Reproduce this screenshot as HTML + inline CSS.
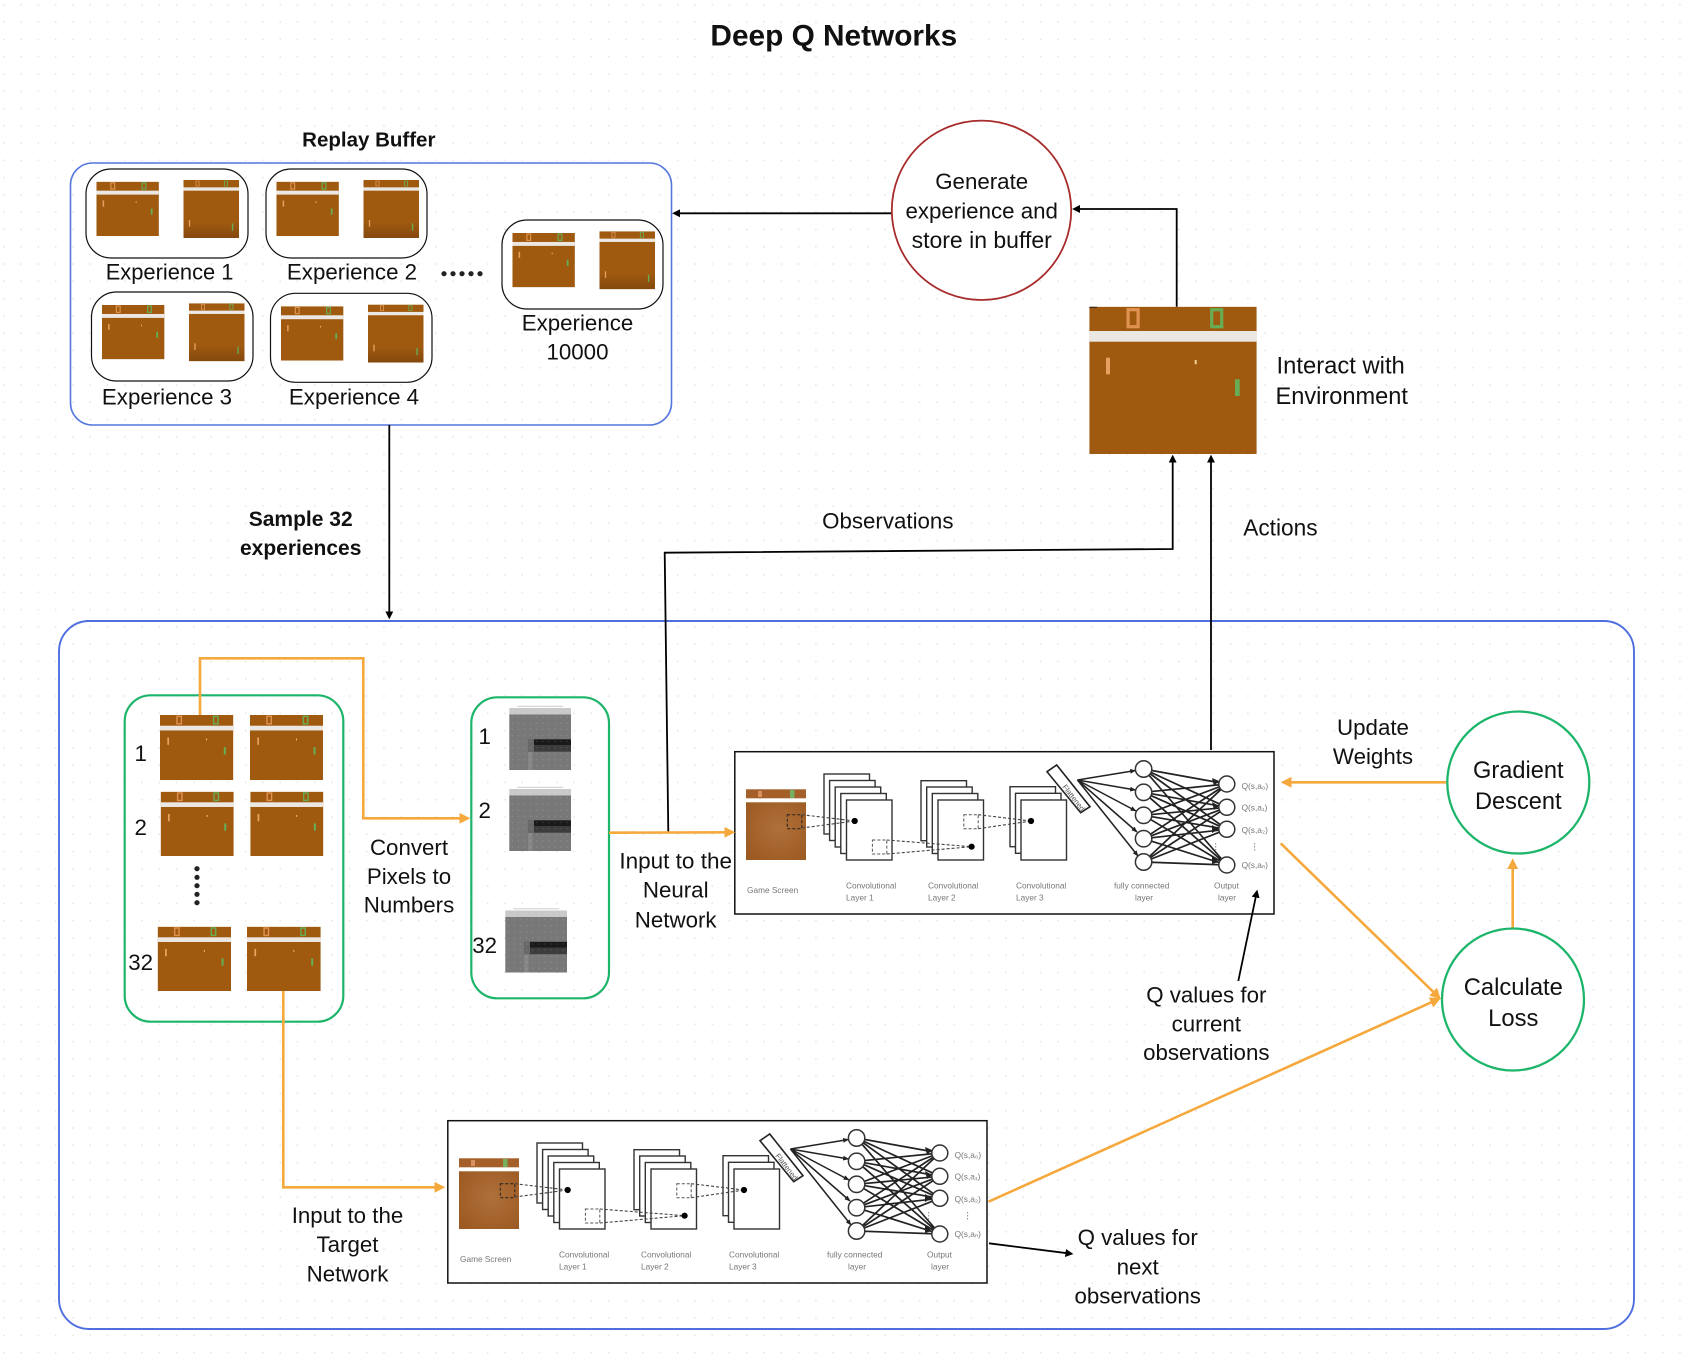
<!DOCTYPE html>
<html><head><meta charset="utf-8"><title>Deep Q Networks</title>
<style>
html,body{margin:0;padding:0;background:#fff}
svg{display:block}
text{font-family:"Liberation Sans",sans-serif;fill:#111;font-size:22.3px;text-anchor:middle}
.b{font-weight:bold}
.s text,text.s{font-size:8.3px;fill:#777;text-anchor:start}
</style></head><body>
<svg width="1690" height="1358" viewBox="0 0 1690 1358" xmlns="http://www.w3.org/2000/svg">
<defs>
<pattern id="dots" x="3.8" y="4.8" width="17.28" height="17.28" patternUnits="userSpaceOnUse" patternTransform="translate(-1.2 -1.2)"><rect x="0.2" y="0.2" width="2" height="2" rx="1" fill="#e9e9e9"/></pattern>
<pattern id="wd" width="6.1" height="6.1" patternUnits="userSpaceOnUse"><circle cx="3" cy="3" r=".55" fill="#fff" opacity=".22"/></pattern>
<marker id="mb" viewBox="0 0 10 10" refX="7" refY="5" markerWidth="8" markerHeight="8" markerUnits="userSpaceOnUse" orient="auto"><path d="M0 0L10 5L0 10z" fill="#000"/></marker>
<marker id="mo" viewBox="0 0 10 10" refX="7" refY="5" markerWidth="11" markerHeight="11" markerUnits="userSpaceOnUse" orient="auto"><path d="M0 0L10 5L0 10z" fill="#f5a83c"/></marker>
<marker id="mn" viewBox="0 0 10 10" refX="9" refY="5" markerWidth="6" markerHeight="6" markerUnits="userSpaceOnUse" orient="auto"><path d="M0 1L10 5L0 9z" fill="#222"/></marker>
<linearGradient id="sh" x1="0" y1="0" x2="0" y2="1"><stop offset="0" stop-color="#a05a10"/><stop offset=".72" stop-color="#a05a10"/><stop offset="1" stop-color="#85490e"/></linearGradient>
<radialGradient id="gs" cx=".55" cy=".45" r=".7"><stop offset="0" stop-color="#b0703a"/><stop offset="1" stop-color="#9c5a22"/></radialGradient>
<symbol id="g" viewBox="0 0 167.4 147.3" preserveAspectRatio="none">
<rect width="167.4" height="147.3" fill="#a05a10"/>
<rect y="24.3" width="167.4" height="10.7" fill="#ebe7e3"/>
<rect x="38.8" y="3" width="10" height="17" fill="none" stroke="#e09250" stroke-width="3.2"/>
<rect x="122.4" y="3" width="10" height="17" fill="none" stroke="#66ad55" stroke-width="3.2"/>
<rect x="16.7" y="51" width="4" height="16.6" fill="#e8a060"/>
<rect x="105.4" y="53.3" width="2" height="4.3" fill="#f4d090"/>
<rect x="145.7" y="72.6" width="4.7" height="16.7" fill="#66ad55"/>
</symbol>
<symbol id="h" viewBox="0 0 125 174" preserveAspectRatio="none">
<rect width="125" height="174" fill="url(#sh)"/>
<rect y="22" width="125" height="10" fill="#ebe7e3"/>
<rect x="28" y="3" width="7" height="15" fill="none" stroke="#e09250" stroke-width="2"/>
<rect x="92" y="3" width="7" height="15" fill="none" stroke="#66ad55" stroke-width="2"/>
<rect x="12" y="120" width="3" height="20" fill="#e8a060"/>
<rect x="109" y="130" width="3" height="22" fill="#66ad55"/>
</symbol>
<g id="gray">
<rect width="61.7" height="6.5" fill="#c9c9c9"/>
<rect y="-2.2" x="8" width="46" height="1" fill="#ccc"/>
<rect y="6.5" width="61.7" height="55.5" fill="#787878"/>
<rect x="18.7" y="31" width="6" height="13" fill="#686868"/>
<rect x="18.7" y="44" width="4.5" height="18" fill="#868686"/>
<rect x="24.7" y="31.3" width="37" height="5.8" fill="#1a1a1a"/>
<rect x="24.7" y="37" width="37" height="6.7" fill="#3c3c3c"/>
<rect width="61.7" height="62" fill="url(#wd)"/>
</g>
<g id="pair">
<use href="#g" x="10.4" y="13" width="62.5" height="54.3"/>
<use href="#h" x="97.5" y="11.3" width="55.5" height="58"/>
</g>
<g id="sheet"><rect width="45.5" height="60" fill="#fff" stroke="#333" stroke-width="1.4"/></g>
<g id="nn">
<rect x="734.8" y="751.7" width="539.2" height="162.3" fill="#fff" stroke="#111" stroke-width="1.5"/>
<rect x="746" y="789.3" width="60" height="9" fill="#a5602a"/>
<rect x="746" y="802.3" width="60" height="57.7" fill="url(#gs)"/>
<rect x="758" y="791" width="4" height="6" fill="#d89060"/>
<rect x="790" y="790" width="4.5" height="8" fill="#74b060"/>
<use href="#sheet" x="824" y="774"/><use href="#sheet" x="829.6" y="780.5"/><use href="#sheet" x="835.2" y="787"/><use href="#sheet" x="840.8" y="793.5"/><use href="#sheet" x="846.5" y="800"/>
<use href="#sheet" x="921" y="780.7"/><use href="#sheet" x="926.7" y="787"/><use href="#sheet" x="932.3" y="793.5"/><use href="#sheet" x="938" y="800"/>
<use href="#sheet" x="1010" y="786.7"/><use href="#sheet" x="1015.5" y="793.3"/><use href="#sheet" x="1021" y="800"/>
<g fill="none" stroke-dasharray="3 2">
<rect x="787.3" y="814.7" width="14.5" height="14" stroke="#222" stroke-width="1"/>
<rect x="872.4" y="840" width="14.4" height="14" stroke="#555" stroke-width="1"/>
<rect x="963.8" y="814.7" width="14.4" height="14" stroke="#555" stroke-width="1"/>
<path d="M801.8 814.7L854.7 821M801.8 828L854.7 821M886.8 840L971.6 846.7M886.8 854L971.6 846.7M978.2 814.7L1031 821M978.2 828.7L1031 821" stroke="#444" stroke-width="1.1"/>
</g>
<circle cx="854.7" cy="821" r="3.1"/><circle cx="971.6" cy="846.7" r="3.1"/><circle cx="1031" cy="821" r="3.1"/>
<polygon points="1047,771.7 1056.7,765 1090,806.7 1080.7,812.7" fill="#fff" stroke="#222" stroke-width="1.6"/>
<g fill="none" stroke="#222" stroke-width="1.5">
<path d="M1077.5 780L1135.5 770.5" marker-end="url(#mn)"/><path d="M1077.5 780L1135.5 790" marker-end="url(#mn)"/><path d="M1077.5 780L1136 811" marker-end="url(#mn)"/><path d="M1077.5 780L1137 832" marker-end="url(#mn)"/><path d="M1077.5 780L1138 856" marker-end="url(#mn)"/>
</g>
<path fill="none" stroke="#222" stroke-width="1.7" d="M1143.6 769L1226.8 784M1143.6 769L1226.8 807.3M1143.6 769L1226.8 829.3M1143.6 769L1226.8 865M1143.6 792.3L1226.8 784M1143.6 792.3L1226.8 807.3M1143.6 792.3L1226.8 829.3M1143.6 792.3L1226.8 865M1143.6 815.3L1226.8 784M1143.6 815.3L1226.8 807.3M1143.6 815.3L1226.8 829.3M1143.6 815.3L1226.8 865M1143.6 838.7L1226.8 784M1143.6 838.7L1226.8 807.3M1143.6 838.7L1226.8 829.3M1143.6 838.7L1226.8 865M1143.6 862L1226.8 784M1143.6 862L1226.8 807.3M1143.6 862L1226.8 829.3M1143.6 862L1226.8 865"/>
<path fill="#222" d="M1219 781l-7-3l2 8zM1219 806l-7-4l2 8zM1219 829l-7-4l0 8zM1219 862l-7-6l0 8z"/>
<g fill="#fff" stroke="#333" stroke-width="1.5">
<circle cx="1143.6" cy="769" r="8.2"/><circle cx="1143.6" cy="792.3" r="8.2"/><circle cx="1143.6" cy="815.3" r="8.2"/><circle cx="1143.6" cy="838.7" r="8.2"/><circle cx="1143.6" cy="862" r="8.2"/>
<circle cx="1226.8" cy="784" r="8"/><circle cx="1226.8" cy="807.3" r="8"/><circle cx="1226.8" cy="829.3" r="8"/><circle cx="1226.8" cy="865" r="8"/>
</g>
<path d="M1215.7 843V851M1254.6 843V851" stroke="#888" stroke-width="1" stroke-dasharray="1.5 1.5"/>
</g>
</defs>

<rect width="1690" height="1358" fill="#fff"/>
<rect width="1690" height="1358" fill="url(#dots)"/>

<text class="b" x="833.8" y="45.3" style="font-size:29.8px">Deep Q Networks</text>
<text class="b" x="368.8" y="146.7" style="font-size:20.5px">Replay Buffer</text>

<!-- Replay buffer -->
<rect x="70.5" y="163" width="601" height="262" rx="22" fill="none" stroke="#5577dd" stroke-width="1.6"/>
<g fill="#fff" stroke="#111" stroke-width="1.2">
<rect x="86" y="169" width="162" height="89" rx="25"/>
<rect x="266" y="169" width="161" height="89" rx="25"/>
<rect x="91.5" y="292" width="161.5" height="89" rx="25"/>
<rect x="270.5" y="293.3" width="161.5" height="89" rx="25"/>
<rect x="502" y="220" width="161" height="89" rx="25"/>
</g>
<use href="#pair" x="86" y="168.7"/>
<use href="#pair" x="266" y="168.7"/>
<use href="#pair" x="91.5" y="292"/>
<use href="#pair" x="270.5" y="293.3"/>
<use href="#pair" x="502" y="220"/>
<text x="169.6" y="279.3" style="font-size:21.9px">Experience 1</text>
<text x="352" y="279.3">Experience 2</text>
<text x="167" y="404.3">Experience 3</text>
<text x="354" y="404.3">Experience 4</text>
<text x="577.5" y="330.3">Experience</text>
<text x="577.5" y="359.3">10000</text>
<g fill="#222"><circle cx="444" cy="273.7" r="2.6"/><circle cx="453" cy="273.7" r="2.6"/><circle cx="462" cy="273.7" r="2.6"/><circle cx="471" cy="273.7" r="2.6"/><circle cx="480" cy="273.7" r="2.6"/></g>

<!-- Generate circle -->
<circle cx="981.5" cy="210.3" r="89.7" fill="#fff" stroke="#a82c2c" stroke-width="1.8"/>
<text x="981.7" y="189">Generate</text>
<text x="981.7" y="218.6">experience and</text>
<text x="981.7" y="248" style="font-size:23px">store in buffer</text>

<!-- Environment -->
<use href="#g" x="1089.3" y="306.7" width="167.4" height="147.3"/>
<path d="M1089.3 307.3H1097" stroke="#222" stroke-width="1"/>
<text x="1276.5" y="373.3" style="text-anchor:start;font-size:23.8px">Interact with</text>
<text x="1275.5" y="404" style="text-anchor:start;font-size:23.6px">Environment</text>

<!-- Main box -->
<rect x="59" y="621" width="1575" height="708" rx="30" fill="none" stroke="#4f6fe0" stroke-width="1.9"/>

<!-- Black connectors -->
<g fill="none" stroke="#000" stroke-width="1.8">
<path d="M891 213.3H674.5" marker-end="url(#mb)"/>
<path d="M1176.7 306.7V209H1074.5" marker-end="url(#mb)"/>
<path d="M389.3 425V617" marker-end="url(#mb)"/>
<path d="M668.3 832.3L664.7 552.7L1172.7 549V457" marker-end="url(#mb)"/>
<path d="M1211 750V457" marker-end="url(#mb)"/>
</g>
<text class="b" x="300.7" y="526" style="font-size:21px">Sample 32</text>
<text class="b" x="300.7" y="555" style="font-size:21px">experiences</text>
<text x="887.8" y="528.3">Observations</text>
<text x="1280.4" y="535.4" style="font-size:22.7px">Actions</text>

<!-- Green boxes -->
<rect x="124.7" y="695.3" width="218.6" height="326.4" rx="26" fill="none" stroke="#1db56a" stroke-width="2.2"/>
<rect x="471.3" y="697.3" width="137.7" height="301" rx="26" fill="none" stroke="#1db56a" stroke-width="2.2"/>

<use href="#g" x="160" y="715" width="73.3" height="65"/>
<use href="#g" x="250" y="715" width="73" height="65"/>
<use href="#g" x="160.7" y="791.7" width="73" height="64.3"/>
<use href="#g" x="250.3" y="791.7" width="73" height="64.3"/>
<use href="#g" x="157.7" y="926.7" width="73.3" height="64.3"/>
<use href="#g" x="247" y="926.7" width="73.7" height="64.3"/>
<g fill="#222"><circle cx="197" cy="868.7" r="2.6"/><circle cx="197" cy="877.3" r="2.6"/><circle cx="197" cy="885.7" r="2.6"/><circle cx="197" cy="894.3" r="2.6"/><circle cx="197" cy="902.7" r="2.6"/></g>
<text x="140.7" y="761">1</text><text x="140.7" y="835">2</text><text x="140.7" y="970">32</text>

<use href="#gray" x="509.3" y="708"/>
<use href="#gray" x="509.3" y="789"/>
<use href="#gray" x="505.3" y="910.5"/>
<text x="484.7" y="744">1</text><text x="484.7" y="818">2</text><text x="484.7" y="953">32</text>

<text x="409" y="855">Convert</text>
<text x="409" y="884">Pixels to</text>
<text x="409" y="912.7">Numbers</text>

<text x="675.7" y="868.3" style="font-size:22.5px">Input to the</text>
<text x="675.7" y="897.3">Neural</text>
<text x="675.7" y="927.3">Network</text>

<text x="347.5" y="1223">Input to the</text>
<text x="347.5" y="1252">Target</text>
<text x="347.5" y="1281.5">Network</text>

<!-- Networks -->
<use href="#nn"/>
<g class="s">
<text x="747" y="893">Game Screen</text>
<text x="846" y="888.5">Convolutional</text><text x="846" y="900.5">Layer 1</text>
<text x="928" y="888.5">Convolutional</text><text x="928" y="900.5">Layer 2</text>
<text x="1016" y="888.5">Convolutional</text><text x="1016" y="900.5">Layer 3</text>
<text x="1114" y="888.5">fully connected</text><text x="1135" y="900.5">layer</text>
<text x="1214" y="888.5">Output</text><text x="1218" y="900.5">layer</text>
<text x="1241.6" y="789">Q(s,a₀)</text><text x="1241.6" y="810.5">Q(s,a₁)</text><text x="1241.6" y="833">Q(s,a₂)</text><text x="1241.6" y="868">Q(s,aₙ)</text>
<text x="0" y="0" transform="translate(1062 787) rotate(52)" style="font-size:7.5px;fill:#555">Flattened</text>
</g>
<g transform="translate(-287 369)">
<use href="#nn"/>
<g class="s">
<text x="747" y="893">Game Screen</text>
<text x="846" y="888.5">Convolutional</text><text x="846" y="900.5">Layer 1</text>
<text x="928" y="888.5">Convolutional</text><text x="928" y="900.5">Layer 2</text>
<text x="1016" y="888.5">Convolutional</text><text x="1016" y="900.5">Layer 3</text>
<text x="1114" y="888.5">fully connected</text><text x="1135" y="900.5">layer</text>
<text x="1214" y="888.5">Output</text><text x="1218" y="900.5">layer</text>
<text x="1241.6" y="789">Q(s,a₀)</text><text x="1241.6" y="810.5">Q(s,a₁)</text><text x="1241.6" y="833">Q(s,a₂)</text><text x="1241.6" y="868">Q(s,aₙ)</text>
<text x="0" y="0" transform="translate(1062 787) rotate(52)" style="font-size:7.5px;fill:#555">Flattened</text>
</g>
</g>

<!-- Orange connectors -->
<g fill="none" stroke="#f5a83c" stroke-width="2.6">
<path d="M200 715V658.3H363.3V818.3H467" marker-end="url(#mo)"/>
<path d="M609 832.7L732 832.3" marker-end="url(#mo)"/>
<path d="M283.3 991V1187.3H442" marker-end="url(#mo)"/>
<path d="M1446 782.3H1284" marker-end="url(#mo)"/>
<path d="M1512.7 928V861.5" marker-end="url(#mo)"/>
<path d="M1280.7 843.3L1438.5 997" marker-end="url(#mo)"/>
<path d="M988.5 1201.7L1438 999.3" marker-end="url(#mo)"/>
</g>
<circle cx="1518.3" cy="782.5" r="71" fill="#fff" stroke="#1db56a" stroke-width="2.3"/>
<circle cx="1513" cy="999.5" r="71" fill="#fff" stroke="#1db56a" stroke-width="2.3"/>
<text x="1518.3" y="778" style="font-size:23.6px">Gradient</text>
<text x="1518.3" y="809" style="font-size:23.6px">Descent</text>
<text x="1513.3" y="995" style="font-size:23.8px">Calculate</text>
<text x="1513.3" y="1026" style="font-size:23.8px">Loss</text>
<text x="1373" y="735">Update</text>
<text x="1373" y="764">Weights</text>

<!-- Q arrows & labels -->
<g fill="none" stroke="#000" stroke-width="1.8">
<path d="M1238.3 981L1256.8 892" marker-end="url(#mb)"/>
<path d="M989 1243.3L1071 1253.7" marker-end="url(#mb)"/>
</g>
<text x="1206.3" y="1002.5">Q values for</text>
<text x="1206.3" y="1031.5">current</text>
<text x="1206.3" y="1060">observations</text>
<text x="1137.7" y="1245">Q values for</text>
<text x="1137.7" y="1274.3">next</text>
<text x="1137.7" y="1303.3">observations</text>
</svg>
</body></html>
